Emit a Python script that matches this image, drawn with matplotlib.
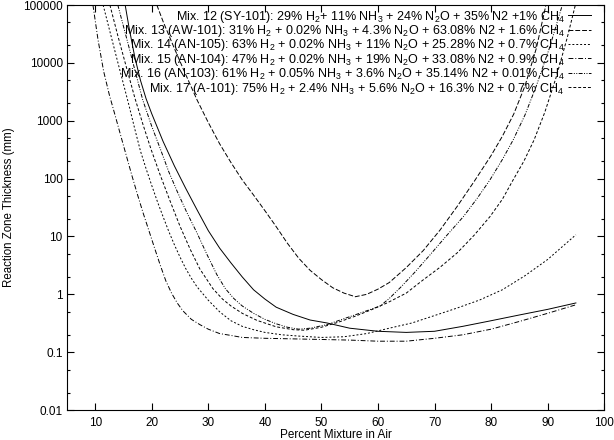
import matplotlib
matplotlib.use("Agg")
import matplotlib.pyplot as plt
from matplotlib.ticker import FixedLocator, NullFormatter

plt.rcParams['font.family'] = ['Liberation Sans', 'DejaVu Sans']
plt.rcParams['mathtext.fontset'] = 'custom'
plt.rcParams['mathtext.rm'] = 'Liberation Sans'
plt.rcParams['mathtext.it'] = 'Liberation Sans:italic'

# ---- data (x = percent mixture in air, y = thickness in mm) ----
x_mix12 = [15.3, 16, 17, 18, 19, 20, 22, 24, 26, 28, 30, 32, 34, 36, 38, 40, 42, 45, 48, 51,
           55, 60, 65, 70, 75, 80, 85, 90, 95]
y_mix12 = [100000, 40000, 12600, 5000, 2400, 1320, 440, 166, 68, 29, 12.6, 6.3, 3.5, 2.0, 1.2,
           0.83, 0.6, 0.45, 0.36, 0.32, 0.26, 0.23, 0.22, 0.23, 0.28, 0.35, 0.44, 0.55, 0.71]

x_mix13 = [20.9, 22, 24, 26, 28, 30, 32, 34, 36, 38, 40, 42, 44, 46, 48, 50, 52, 54, 56, 58,
           60, 62, 65, 68, 71, 74, 77, 80, 82, 84, 86, 88, 89.7]
y_mix13 = [100000, 52000, 17800, 6300, 2300, 930, 400, 190, 95, 52, 28, 14.8, 7.6, 4.2, 2.6,
           1.8, 1.3, 1.05, 0.91, 1.0, 1.23, 1.6, 2.9, 5.7, 13, 33, 89, 250, 540, 1300, 4000,
           17800, 100000]

x_mix14 = [11.4, 12, 13, 14, 15, 16, 17, 18, 19, 20, 21, 22, 23, 24, 25, 26, 27, 28, 30, 32,
           34, 36, 38, 40, 43, 46, 50, 54, 58, 62, 66, 70, 74, 78, 82, 86, 90, 95]
y_mix14 = [100000, 59000, 24500, 10200, 4300, 1800, 720, 300, 148, 76, 40, 22, 12.3, 7.2, 4.4,
           2.8, 1.9, 1.35, 0.79, 0.5, 0.35, 0.28, 0.245, 0.22, 0.2, 0.19, 0.18, 0.185, 0.21,
           0.26, 0.32, 0.43, 0.58, 0.8, 1.2, 2.1, 4.0, 10.7]

x_mix15 = [9.6, 10.5, 11.5, 12.5, 13.5, 14.5, 15.5, 16.5, 17.5, 18.5, 19.5, 20.5, 21.5, 22.5,
           23.5, 24.5, 25.5, 27, 28.5, 30, 32, 34, 36, 40, 45, 50, 55, 60, 65, 70, 75, 80, 85,
           90, 95]
y_mix15 = [100000, 25000, 7100, 2800, 1260, 560, 250, 112, 52, 25, 12.6, 6.3, 3.2, 1.7, 1.05,
           0.71, 0.52, 0.37, 0.3, 0.25, 0.21, 0.195, 0.18, 0.174, 0.17, 0.166, 0.162, 0.155,
           0.155, 0.174, 0.2, 0.25, 0.34, 0.47, 0.66]

x_mix16 = [14, 15, 16, 17, 18.4, 20, 21.6, 23, 24.5, 26.2, 28, 29.8, 31.5, 33, 34.5, 36, 38, 40,
           42, 44, 46, 48, 51, 54, 57, 60.4, 62, 64, 66.5, 69.2, 72, 75.1, 77.5, 79.8, 82, 83.9,
           86, 88, 90.3, 92.6]
y_mix16 = [100000, 42700, 18200, 7600, 2300, 800, 310, 132, 60, 26, 11.5, 4.8, 2.2, 1.26, 0.85,
           0.63, 0.47, 0.37, 0.31, 0.27, 0.25, 0.26, 0.3, 0.38, 0.48, 0.63, 0.85, 1.32, 2.4,
           4.8, 10, 22, 45, 95, 214, 465, 1260, 4000, 17800, 100000]

x_mix17 = [12.6, 14, 15.5, 17, 18.5, 19.9, 21.5, 23.2, 25, 26.8, 28.5, 30.8, 32.5, 34, 36, 38.6,
           42, 45, 47, 50, 53, 56, 59, 61.6, 65, 68, 71, 74, 77, 79.8, 82, 83.9, 85.8, 87.6,
           89.5, 91.5, 93.5, 94.9]
y_mix17 = [100000, 29500, 8500, 2500, 830, 316, 115, 42, 15, 6.0, 2.75, 1.26, 0.83, 0.63, 0.47,
           0.355, 0.275, 0.245, 0.24, 0.27, 0.33, 0.42, 0.55, 0.71, 1.05, 1.78, 2.95, 5.2, 10.5,
           22, 44, 95, 200, 465, 1400, 5600, 28000, 100000]

labels = [
    "Mix. 12 (SY-101): 29% H$_2$+ 11% NH$_3$ + 24% N$_2$O + 35% N2 +1% CH$_4$",
    "Mix. 13 (AW-101): 31% H$_2$ + 0.02% NH$_3$ + 4.3% N$_2$O + 63.08% N2 + 1.6% CH$_4$",
    "Mix. 14 (AN-105): 63% H$_2$ + 0.02% NH$_3$ + 11% N$_2$O + 25.28% N2 + 0.7% CH$_4$",
    "Mix. 15 (AN-104): 47% H$_2$ + 0.02% NH$_3$ + 19% N$_2$O + 33.08% N2 + 0.9% CH$_4$",
    "Mix. 16 (AN-103): 61% H$_2$ + 0.05% NH$_3$ + 3.6% N$_2$O + 35.14% N2 + 0.01% CH$_4$",
    "Mix. 17 (A-101): 75% H$_2$ + 2.4% NH$_3$ + 5.6% N$_2$O + 16.3% N2 + 0.7% CH$_4$",
]

y_ticks = [0.01, 0.1, 1, 10, 100, 1000, 10000, 100000]
y_tick_labels = ['0.01', '0.1', '1', '10', '100', '1000', '10000', '100000']
x_ticks = [10, 20, 30, 40, 50, 60, 70, 80, 90, 100]

series = [(x_mix12, y_mix12, '-'),
          (x_mix13, y_mix13, (0, (5, 2))),
          (x_mix14, y_mix14, (0, (2, 2))),
          (x_mix15, y_mix15, (0, (5, 2, 1, 2))),
          (x_mix16, y_mix16, (0, (4, 1.5, 1, 1.5, 1, 1.5))),
          (x_mix17, y_mix17, (0, (3, 2)))]

fig = plt.figure(figsize=(6.14, 4.40), dpi=100)
ax = fig.add_axes([0.109, 0.068, 0.875, 0.9206])

for (xs, ys, ls), lab in zip(series, labels):
    ax.plot(xs, ys, color='black', linestyle=ls, linewidth=0.7, label=lab)

ax.set_yscale('log')
ax.set_xlim(5, 100)
ax.set_ylim(0.01, 100000)
ax.set_xticks(x_ticks)
ax.set_xticklabels([str(t) for t in x_ticks])
ax.set_yticks(y_ticks)
ax.set_yticklabels(y_tick_labels)
ax.yaxis.set_minor_locator(FixedLocator([m * 10.0 ** k for k in range(-2, 5) for m in (2, 5)]))
ax.yaxis.set_minor_formatter(NullFormatter())
ax.tick_params(which='both', direction='in', top=True, right=True, labelsize=8.5)
ax.tick_params(which='major', length=5, width=0.8)
ax.tick_params(which='minor', length=2.5, width=0.8)
ax.tick_params(axis='x', pad=5)
ax.tick_params(axis='y', pad=3)
for sp in ax.spines.values():
    sp.set_linewidth(0.8)

ax.set_xlabel("Percent Mixture in Air", fontsize=8.5, labelpad=0)
ax.set_ylabel("Reaction Zone Thickness (mm)", fontsize=8.3, labelpad=6)

ax.legend(loc='upper right', bbox_to_anchor=(0.98, 0.997), frameon=False,
          markerfirst=False, alignment='right', fontsize=9, handlelength=1.8,
          handletextpad=0.3, labelspacing=-0.13, borderaxespad=0, borderpad=0.2)

fig.savefig('out.png', dpi=100)
